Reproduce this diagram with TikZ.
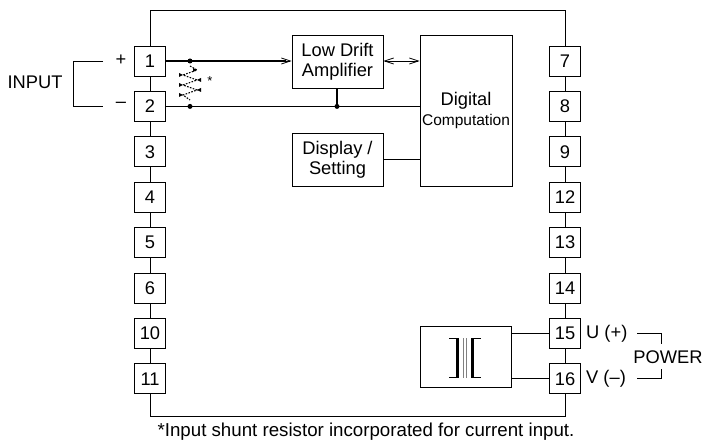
\documentclass[tikz,border=0pt]{standalone}
\usepackage{fontspec}
\setmainfont{Liberation Sans}
\usetikzlibrary{arrows.meta}
\begin{document}
\begin{tikzpicture}[x=1pt,y=-1pt,
  every node/.style={font=\fontsize{18.3}{21}\selectfont, inner sep=0pt},
  term/.style={draw, fill=white, minimum width=31pt, minimum height=30pt, line width=0.8pt},
  blk/.style={draw, fill=white, line width=0.8pt, align=center},
  thin/.style={line width=0.8pt},
  sig/.style={line width=1.5pt},
  tip/.style={-{Straight Barb[length=9pt,width=6pt,line width=0.8pt]}},
  dot/.style={circle, fill=black, minimum size=5pt, inner sep=0pt}
]
\useasboundingbox (0,0) rectangle (704,446);
% outer frame
\draw[thin] (150,10) rectangle (565,416);
% left terminals
\foreach \n/\y in {1/61,2/106.4,3/151.8,4/197.2,5/242.6,6/288,10/333.4,11/378.8}
  \node[term] (L\n) at (150,\y) {\n};
\foreach \n/\y in {7/61,8/106.4,9/151.8,12/197.2,13/242.6,14/288,15/333.4,16/378.8}
  \node[term] (R\n) at (565,\y) {\n};
% blocks
\node[blk, minimum width=91pt, minimum height=53pt] (amp) at (337.5,61.5) {Low Drift\\[-1pt]Amplifier};
\node[blk, minimum width=92pt, minimum height=151pt] (dig) at (466,110.5) {Digital\\[-1pt]{\fontsize{15.5}{18}\selectfont Computation}};
\node[blk, minimum width=91pt, minimum height=53pt] (disp) at (337.5,159.5) {Display /\\[-1pt]Setting};
\node[blk, minimum width=91pt, minimum height=61pt] (tr) at (465.5,356.5) {};
% signal lines
\coordinate (d1) at (190,61);
\coordinate (d2) at (190,106.4);
\coordinate (d3) at (337,106.4);
\draw[sig] (L1.east) -- (d1);
\draw[sig] (d1) -- ([xshift=-6pt]amp.west |- d1);
\draw[thin,tip] ([xshift=-40pt]amp.west |- d1) -- (amp.west |- d1);
\draw[sig] (L2.east) -- (dig.west |- d2);
\draw[sig] (amp.south -| d3) -- (d3);
\node[dot] at (d1) {};
\node[dot] at (d2) {};
\node[dot] at (d3) {};
\draw[thin,{Straight Barb[length=9pt,width=6pt,line width=0.8pt]}-{Straight Barb[length=9pt,width=6pt,line width=0.8pt]}] (amp.east |- d1) -- (dig.west |- d1);
\draw[thin] (disp.east) -- (dig.west |- disp.east);
% resistor (dotted zigzag)
\draw[line width=1.1pt, dash pattern=on 1.6pt off 1.4pt]
  (190,66) -- (197,70) -- (183,75) -- (197,80) -- (183,85) -- (197,90) -- (183,95) -- (190,100);
\foreach \x/\y/\d in {197/70/-1,183/75/-1,197/80/1,183/85/-1,197/90/1,183/95/-1}
  \fill (\x,\y) -- ++(\d*4,-2) -- ++(0,4) -- cycle;
\node[font=\fontsize{13}{14}\selectfont] (star) at (210,81) {*};
% input bracket
\coordinate (ia) at (103,61);
\coordinate (ib) at (103,106.4);
\draw[thin] (ia) -- (73,61) -- (73,106.4) -- (ib);
\node (plus) at (121,60) {+};
\node (minus) at (121,105) {–};
\node (input) at (35,82) {INPUT};
% transformer
\draw[thin] (tr.east |- R15) -- (R15.west);
\draw[thin] (tr.east |- R16) -- (R16.west);
\fill (455.5,338) rectangle (458.5,378);
\fill (470.5,338) rectangle (473.5,378);
\draw[line width=0.6pt] (449,338.3) -- (458,338.3) (449,377.7) -- (458,377.7);
\draw[line width=0.6pt] (471,338.3) -- (481,338.3) (471,377.7) -- (481,377.7);
\draw[line width=0.8pt, gray] (463.3,338) -- (463.3,378) (466.3,338) -- (466.3,378);
% power labels
\node[anchor=west] (U) at (586,333.4) {U (+)};
\node[anchor=west] (V) at (586,378.8) {V (–)};
\coordinate (pa) at (637,333.4);
\coordinate (pb) at (637,378.8);
\draw[thin] (pa) -- (661,333.4) -- (661,344);
\draw[thin] (pb) -- (661,378.8) -- (661,369);
\node (power) at (668,357) {POWER};
% footnote
\node[font=\fontsize{18.7}{21}\selectfont] (note) at (366,432) {*Input shunt resistor incorporated for current input.};
\end{tikzpicture}
\end{document}
